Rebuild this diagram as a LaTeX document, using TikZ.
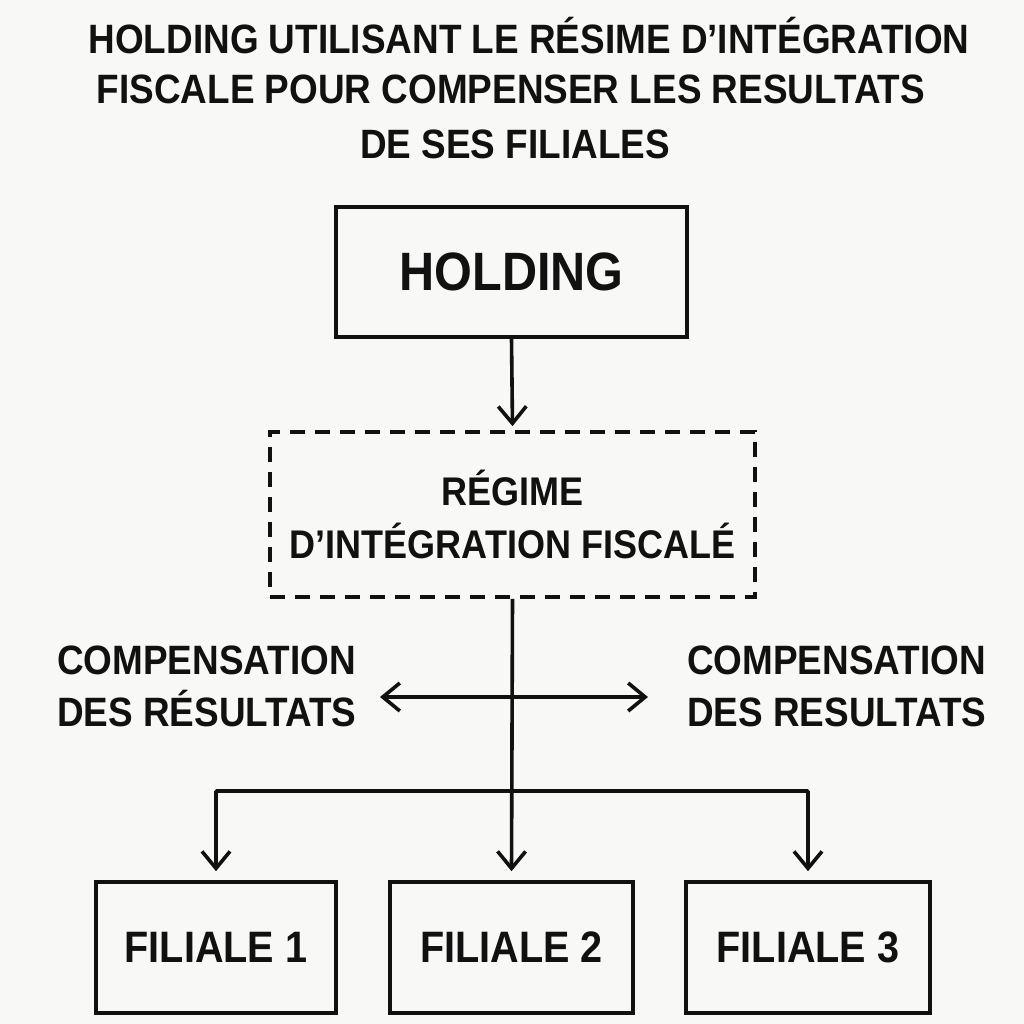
\documentclass[tikz,border=0pt]{standalone}
\usepackage{fontspec}
\setmainfont[FakeStretch=0.9]{Liberation Sans}
\usetikzlibrary{arrows.meta}
\definecolor{bg}{HTML}{F8F8F6}
\definecolor{ink}{HTML}{111111}
\tikzset{
  box/.style={draw=ink, line width=3.6bp, rectangle, inner sep=0pt, text=ink, font=\bfseries\fontsize{44bp}{48bp}\selectfont},
  dbox/.style={draw=ink, line width=3.6bp, rectangle, inner sep=0pt, dash pattern=on 15bp off 10bp, align=center, text=ink, font=\bfseries\fontsize{40bp}{53bp}\selectfont},
  lbl/.style={align=left, text=ink, font=\bfseries\fontsize{41bp}{52bp}\selectfont, inner sep=0pt},
  ttl/.style={text=ink, font=\bfseries\fontsize{41bp}{48bp}\selectfont, inner sep=0pt},
  conn/.style={draw=ink, line width=3.6bp},
  barb/.tip={Straight Barb[length=17bp,width=28bp,line width=3.6bp]},
  tip/.style={-barb},
  btip/.style={barb-barb}
}
\begin{document}
\begin{tikzpicture}[x=1bp,y=-1bp]
\fill[bg] (0,0) rectangle (1024,1024);
\useasboundingbox (0,0) rectangle (1024,1024);
% title
\node[ttl] (t1) at (529,36) {HOLDING UTILISANT LE RÉSIME D’INTÉGRATION};
\node[ttl] (t2) at (511,89) {FISCALE POUR COMPENSER LES RESULTATS};
\node[ttl] (t3) at (515,144) {DE SES FILIALES};
% boxes
\node[box, minimum width=351bp, minimum height=130bp] (hold) at (511.5,272) {\fontsize{54bp}{58bp}\selectfont HOLDING};
\node[dbox, minimum width=485bp, minimum height=165bp] (reg) at (512.5,514.5) {RÉGIME\\D’INTÉGRATION FISCALÉ};
\node[box, minimum width=240bp, minimum height=131bp] (f1) at (216,947.5) {FILIALE 1};
\node[box, minimum width=243bp, minimum height=131bp] (f2) at (511.5,947.5) {FILIALE 2};
\node[box, minimum width=244bp, minimum height=131bp] (f3) at (808,947.5) {FILIALE 3};
% labels
\node[lbl, anchor=west] (cl) at (57,686) {COMPENSATION\\DES RÉSULTATS};
\node[lbl, anchor=west] (cr) at (687,686) {COMPENSATION\\DES RESULTATS};
% connectors
\draw[conn, tip] (hold.south) -- ([yshift=4bp]reg.north);
\coordinate (bus) at (512,791);
\coordinate (la) at (380,697);
\coordinate (ra) at (648,697);
\draw[conn, btip] (la) -- (ra);
\draw[conn, tip] (reg.south) -- ([yshift=9bp]f2.north);
\draw[conn, tip, rounded corners=1bp] (bus) -| ([yshift=9bp]f1.north);
\draw[conn, tip, rounded corners=1bp] (bus) -| ([yshift=9bp]f3.north);
\end{tikzpicture}
\end{document}
